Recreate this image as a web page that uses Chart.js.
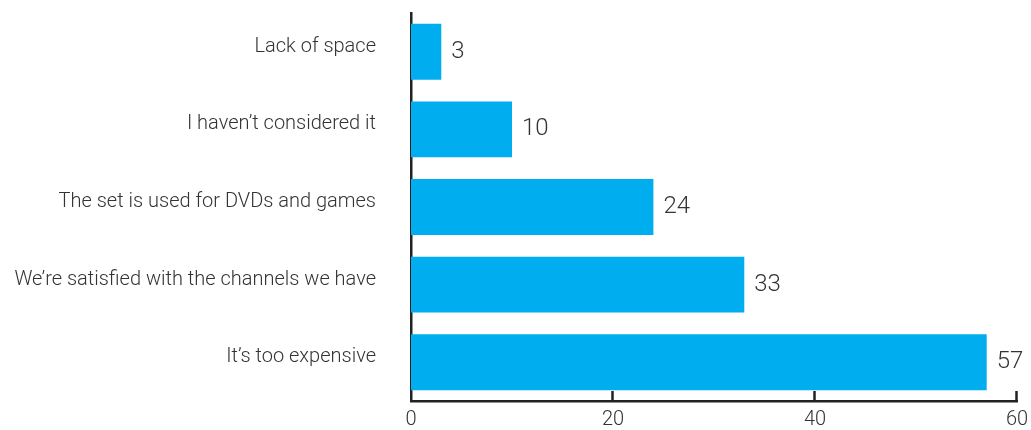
<!DOCTYPE html>
<html>
<head>
<meta charset="utf-8">
<script src="https://cdn.jsdelivr.net/npm/chart.js@4"></script>
<style>
  html, body { margin: 0; padding: 0; background: #fff; }
  #wrap { width: 1031px; height: 430px; }
</style>
</head>
<body>
<div id="wrap"><canvas id="chart"></canvas></div>
<script>
'use strict';

// reasons, top to bottom
const reasons = [
  'Lack of space',
  'I haven\u2019t considered it',
  'The set is used for DVDs and games',
  'We\u2019re satisfied with the channels we have',
  'It\u2019s too expensive'
];
const counts = [3, 10, 24, 33, 57];
const xTicks = [0, 20, 40, 60];

const FONT = '"Helvetica Neue", Roboto, "Liberation Sans", Arial, sans-serif';
const INK = '#333333';
const AXIS = '#222222';

// value at the end of each bar
const valueLabels = {
  id: 'valueLabels',
  afterDatasetsDraw(chart) {
    const ctx = chart.ctx;
    const meta = chart.getDatasetMeta(0);
    ctx.save();
    ctx.font = '300 24px ' + FONT;
    ctx.fillStyle = INK;
    ctx.textAlign = 'left';
    ctx.textBaseline = 'middle';
    meta.data.forEach((bar, i) => {
      ctx.fillText(String(counts[i]), bar.x + 10, bar.y);
    });
    ctx.restore();
  }
};

// short tick marks pointing up from the x axis
const innerTicks = {
  id: 'innerTicks',
  afterDraw(chart) {
    const ctx = chart.ctx;
    const x = chart.scales.x;
    const bottom = chart.chartArea.bottom;
    ctx.save();
    ctx.strokeStyle = AXIS;
    ctx.lineWidth = 2.5;
    xTicks.forEach(v => {
      if (v === 0) return;
      const px = Math.round(x.getPixelForValue(v)) - 0.5;
      ctx.beginPath();
      ctx.moveTo(px, bottom - 10);
      ctx.lineTo(px, bottom);
      ctx.stroke();
    });
    ctx.restore();
  }
};

new Chart(document.getElementById('chart'), {
  type: 'bar',
  data: {
    labels: reasons,
    datasets: [{
      data: counts,
      backgroundColor: '#00adef',
      borderWidth: 0,
      categoryPercentage: 1,
      barPercentage: 0.72
    }]
  },
  options: {
    indexAxis: 'y',
    responsive: true,
    maintainAspectRatio: false,
    animation: false,
    layout: { padding: { top: 13, right: 14, left: 0, bottom: 0 } },
    plugins: {
      legend: { display: false },
      tooltip: { enabled: false }
    },
    scales: {
      x: {
        min: 0,
        max: 60,
        afterBuildTicks: s => { s.ticks = xTicks.map(v => ({ value: v })); },
        afterFit: s => { s.height = 29; },
        // grid hidden, but tickLength still spaces the labels off the axis
        grid: { display: false, drawTicks: true, tickLength: 7 },
        border: { display: true, color: AXIS, width: 2.5 },
        ticks: {
          padding: 0,
          color: INK,
          font: { family: FONT, size: 20, weight: '300' }
        }
      },
      y: {
        afterFit: s => { s.width = 411; },
        grid: { display: false, drawTicks: true, tickLength: 35 },
        border: { display: true, color: AXIS, width: 2.5 },
        ticks: {
          padding: 0,
          labelOffset: -5,
          color: INK,
          font: { family: FONT, size: 20, weight: '300' }
        }
      }
    }
  },
  plugins: [valueLabels, innerTicks]
});
</script>
</body>
</html>
